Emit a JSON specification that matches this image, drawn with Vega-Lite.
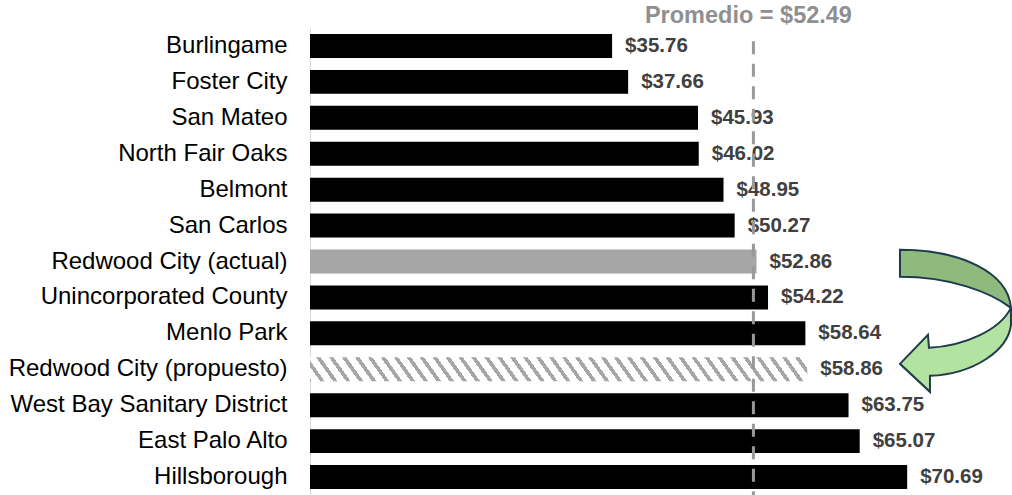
{
  "$schema": "https://vega.github.io/schema/vega-lite/v6.json",
  "autosize": {"type": "none"},
  "padding": {"left": 310, "top": 28, "right": 0, "bottom": 0},
  "width": 702,
  "height": 467,
  "background": "#ffffff",
  "config": {"view": {"stroke": null}},
  "data": {"values": [
    {"city": "Burlingame", "value": 35.76, "type": "normal"},
    {"city": "Foster City", "value": 37.66, "type": "normal"},
    {"city": "San Mateo", "value": 45.93, "type": "normal"},
    {"city": "North Fair Oaks", "value": 46.02, "type": "normal"},
    {"city": "Belmont", "value": 48.95, "type": "normal"},
    {"city": "San Carlos", "value": 50.27, "type": "normal"},
    {"city": "Redwood City (actual)", "value": 52.86, "type": "actual"},
    {"city": "Unincorporated County", "value": 54.22, "type": "normal"},
    {"city": "Menlo Park", "value": 58.64, "type": "normal"},
    {"city": "Redwood City (propuesto)", "value": 58.86, "type": "propuesto"},
    {"city": "West Bay Sanitary District", "value": 63.75, "type": "normal"},
    {"city": "East Palo Alto", "value": 65.07, "type": "normal"},
    {"city": "Hillsborough", "value": 70.69, "type": "normal"}
  ]},
  "layer": [
    {
      "transform": [{"filter": "datum.type !== 'propuesto'"}],
      "mark": {"type": "bar"},
      "encoding": {
        "y": {"field": "city", "type": "nominal", "sort": null,
          "scale": {"domain": ["Burlingame", "Foster City", "San Mateo", "North Fair Oaks", "Belmont", "San Carlos", "Redwood City (actual)", "Unincorporated County", "Menlo Park", "Redwood City (propuesto)", "West Bay Sanitary District", "East Palo Alto", "Hillsborough"], "paddingInner": 0.3333, "paddingOuter": 0.1667},
          "axis": {"title": null, "labelFontSize": 24, "labelFont": "Liberation Sans", "labelColor": "#000000", "ticks": false, "tickSize": 0, "labelPadding": 23, "labelLimit": 500, "domainColor": "#d9d9d9", "domainWidth": 1, "grid": false}},
        "x": {"field": "value", "type": "quantitative", "scale": {"domain": [0, 83.1], "nice": false}, "axis": null},
        "color": {"field": "type", "type": "nominal", "scale": {"domain": ["normal", "actual"], "range": ["#000000", "#a6a6a6"]}, "legend": null}
      }
    },
    {
      "transform": [{"filter": "datum.type === 'propuesto'"}],
      "mark": {"type": "bar", "fill": {"gradient": "linear", "x1": -0.04, "y1": 0, "x2": 1, "y2": -0.0359, "stops": [
        {"offset": 0, "color": "#a6a6a6"}, {"offset": 0.00875, "color": "#a6a6a6"}, {"offset": 0.00875, "color": "#ffffff"}, {"offset": 0.025, "color": "#ffffff"},
        {"offset": 0.025, "color": "#a6a6a6"}, {"offset": 0.03375, "color": "#a6a6a6"}, {"offset": 0.03375, "color": "#ffffff"}, {"offset": 0.05, "color": "#ffffff"},
        {"offset": 0.05, "color": "#a6a6a6"}, {"offset": 0.05875, "color": "#a6a6a6"}, {"offset": 0.05875, "color": "#ffffff"}, {"offset": 0.075, "color": "#ffffff"},
        {"offset": 0.075, "color": "#a6a6a6"}, {"offset": 0.08375, "color": "#a6a6a6"}, {"offset": 0.08375, "color": "#ffffff"}, {"offset": 0.1, "color": "#ffffff"},
        {"offset": 0.1, "color": "#a6a6a6"}, {"offset": 0.10875, "color": "#a6a6a6"}, {"offset": 0.10875, "color": "#ffffff"}, {"offset": 0.125, "color": "#ffffff"},
        {"offset": 0.125, "color": "#a6a6a6"}, {"offset": 0.13375, "color": "#a6a6a6"}, {"offset": 0.13375, "color": "#ffffff"}, {"offset": 0.15, "color": "#ffffff"},
        {"offset": 0.15, "color": "#a6a6a6"}, {"offset": 0.15875, "color": "#a6a6a6"}, {"offset": 0.15875, "color": "#ffffff"}, {"offset": 0.175, "color": "#ffffff"},
        {"offset": 0.175, "color": "#a6a6a6"}, {"offset": 0.18375, "color": "#a6a6a6"}, {"offset": 0.18375, "color": "#ffffff"}, {"offset": 0.2, "color": "#ffffff"},
        {"offset": 0.2, "color": "#a6a6a6"}, {"offset": 0.20875, "color": "#a6a6a6"}, {"offset": 0.20875, "color": "#ffffff"}, {"offset": 0.225, "color": "#ffffff"},
        {"offset": 0.225, "color": "#a6a6a6"}, {"offset": 0.23375, "color": "#a6a6a6"}, {"offset": 0.23375, "color": "#ffffff"}, {"offset": 0.25, "color": "#ffffff"},
        {"offset": 0.25, "color": "#a6a6a6"}, {"offset": 0.25875, "color": "#a6a6a6"}, {"offset": 0.25875, "color": "#ffffff"}, {"offset": 0.275, "color": "#ffffff"},
        {"offset": 0.275, "color": "#a6a6a6"}, {"offset": 0.28375, "color": "#a6a6a6"}, {"offset": 0.28375, "color": "#ffffff"}, {"offset": 0.3, "color": "#ffffff"},
        {"offset": 0.3, "color": "#a6a6a6"}, {"offset": 0.30875, "color": "#a6a6a6"}, {"offset": 0.30875, "color": "#ffffff"}, {"offset": 0.325, "color": "#ffffff"},
        {"offset": 0.325, "color": "#a6a6a6"}, {"offset": 0.33375, "color": "#a6a6a6"}, {"offset": 0.33375, "color": "#ffffff"}, {"offset": 0.35, "color": "#ffffff"},
        {"offset": 0.35, "color": "#a6a6a6"}, {"offset": 0.35875, "color": "#a6a6a6"}, {"offset": 0.35875, "color": "#ffffff"}, {"offset": 0.375, "color": "#ffffff"},
        {"offset": 0.375, "color": "#a6a6a6"}, {"offset": 0.38375, "color": "#a6a6a6"}, {"offset": 0.38375, "color": "#ffffff"}, {"offset": 0.4, "color": "#ffffff"},
        {"offset": 0.4, "color": "#a6a6a6"}, {"offset": 0.40875, "color": "#a6a6a6"}, {"offset": 0.40875, "color": "#ffffff"}, {"offset": 0.425, "color": "#ffffff"},
        {"offset": 0.425, "color": "#a6a6a6"}, {"offset": 0.43375, "color": "#a6a6a6"}, {"offset": 0.43375, "color": "#ffffff"}, {"offset": 0.45, "color": "#ffffff"},
        {"offset": 0.45, "color": "#a6a6a6"}, {"offset": 0.45875, "color": "#a6a6a6"}, {"offset": 0.45875, "color": "#ffffff"}, {"offset": 0.475, "color": "#ffffff"},
        {"offset": 0.475, "color": "#a6a6a6"}, {"offset": 0.48375, "color": "#a6a6a6"}, {"offset": 0.48375, "color": "#ffffff"}, {"offset": 0.5, "color": "#ffffff"},
        {"offset": 0.5, "color": "#a6a6a6"}, {"offset": 0.50875, "color": "#a6a6a6"}, {"offset": 0.50875, "color": "#ffffff"}, {"offset": 0.525, "color": "#ffffff"},
        {"offset": 0.525, "color": "#a6a6a6"}, {"offset": 0.53375, "color": "#a6a6a6"}, {"offset": 0.53375, "color": "#ffffff"}, {"offset": 0.55, "color": "#ffffff"},
        {"offset": 0.55, "color": "#a6a6a6"}, {"offset": 0.55875, "color": "#a6a6a6"}, {"offset": 0.55875, "color": "#ffffff"}, {"offset": 0.575, "color": "#ffffff"},
        {"offset": 0.575, "color": "#a6a6a6"}, {"offset": 0.58375, "color": "#a6a6a6"}, {"offset": 0.58375, "color": "#ffffff"}, {"offset": 0.6, "color": "#ffffff"},
        {"offset": 0.6, "color": "#a6a6a6"}, {"offset": 0.60875, "color": "#a6a6a6"}, {"offset": 0.60875, "color": "#ffffff"}, {"offset": 0.625, "color": "#ffffff"},
        {"offset": 0.625, "color": "#a6a6a6"}, {"offset": 0.63375, "color": "#a6a6a6"}, {"offset": 0.63375, "color": "#ffffff"}, {"offset": 0.65, "color": "#ffffff"},
        {"offset": 0.65, "color": "#a6a6a6"}, {"offset": 0.65875, "color": "#a6a6a6"}, {"offset": 0.65875, "color": "#ffffff"}, {"offset": 0.675, "color": "#ffffff"},
        {"offset": 0.675, "color": "#a6a6a6"}, {"offset": 0.68375, "color": "#a6a6a6"}, {"offset": 0.68375, "color": "#ffffff"}, {"offset": 0.7, "color": "#ffffff"},
        {"offset": 0.7, "color": "#a6a6a6"}, {"offset": 0.70875, "color": "#a6a6a6"}, {"offset": 0.70875, "color": "#ffffff"}, {"offset": 0.725, "color": "#ffffff"},
        {"offset": 0.725, "color": "#a6a6a6"}, {"offset": 0.73375, "color": "#a6a6a6"}, {"offset": 0.73375, "color": "#ffffff"}, {"offset": 0.75, "color": "#ffffff"},
        {"offset": 0.75, "color": "#a6a6a6"}, {"offset": 0.75875, "color": "#a6a6a6"}, {"offset": 0.75875, "color": "#ffffff"}, {"offset": 0.775, "color": "#ffffff"},
        {"offset": 0.775, "color": "#a6a6a6"}, {"offset": 0.78375, "color": "#a6a6a6"}, {"offset": 0.78375, "color": "#ffffff"}, {"offset": 0.8, "color": "#ffffff"},
        {"offset": 0.8, "color": "#a6a6a6"}, {"offset": 0.80875, "color": "#a6a6a6"}, {"offset": 0.80875, "color": "#ffffff"}, {"offset": 0.825, "color": "#ffffff"},
        {"offset": 0.825, "color": "#a6a6a6"}, {"offset": 0.83375, "color": "#a6a6a6"}, {"offset": 0.83375, "color": "#ffffff"}, {"offset": 0.85, "color": "#ffffff"},
        {"offset": 0.85, "color": "#a6a6a6"}, {"offset": 0.85875, "color": "#a6a6a6"}, {"offset": 0.85875, "color": "#ffffff"}, {"offset": 0.875, "color": "#ffffff"},
        {"offset": 0.875, "color": "#a6a6a6"}, {"offset": 0.88375, "color": "#a6a6a6"}, {"offset": 0.88375, "color": "#ffffff"}, {"offset": 0.9, "color": "#ffffff"},
        {"offset": 0.9, "color": "#a6a6a6"}, {"offset": 0.90875, "color": "#a6a6a6"}, {"offset": 0.90875, "color": "#ffffff"}, {"offset": 0.925, "color": "#ffffff"},
        {"offset": 0.925, "color": "#a6a6a6"}, {"offset": 0.93375, "color": "#a6a6a6"}, {"offset": 0.93375, "color": "#ffffff"}, {"offset": 0.95, "color": "#ffffff"},
        {"offset": 0.95, "color": "#a6a6a6"}, {"offset": 0.95875, "color": "#a6a6a6"}, {"offset": 0.95875, "color": "#ffffff"}, {"offset": 0.975, "color": "#ffffff"},
        {"offset": 0.975, "color": "#a6a6a6"}, {"offset": 0.98375, "color": "#a6a6a6"}, {"offset": 0.98375, "color": "#ffffff"}, {"offset": 1, "color": "#ffffff"}
      ]}},
      "encoding": {
        "y": {"field": "city", "type": "nominal", "sort": null, "axis": {"title": null}},
        "x": {"field": "value", "type": "quantitative", "axis": null}
      }
    },
    {
      "mark": {"type": "text", "align": "left", "baseline": "middle", "dx": 13, "fontSize": 20.5, "fontWeight": "bold", "font": "Liberation Sans", "color": "#404040"},
      "encoding": {
        "y": {"field": "city", "type": "nominal", "sort": null, "axis": {"title": null}},
        "x": {"field": "value", "type": "quantitative", "axis": null},
        "text": {"field": "value", "type": "quantitative", "format": "$.2f"}
      }
    },
    {
      "data": {"values": [{}]},
      "mark": {"type": "rule", "strokeDash": [13, 9.5], "strokeWidth": 3, "color": "#999999"},
      "encoding": {
        "x": {"datum": 52.49, "type": "quantitative", "axis": null},
        "y": {"datum": "Burlingame", "type": "nominal", "bandPosition": 0.3, "axis": {"title": null}},
        "y2": {"value": "height"}
      }
    },
    {
      "data": {"values": [{}]},
      "mark": {"type": "text", "text": "Promedio = $52.49", "fontSize": 23.5, "fontWeight": "bold", "font": "Liberation Sans", "color": "#8f8f8f", "align": "center", "baseline": "middle", "dx": -5, "dy": -30},
      "encoding": {
        "x": {"datum": 52.49, "type": "quantitative", "axis": null},
        "y": {"datum": "Burlingame", "type": "nominal", "axis": {"title": null}}
      }
    },
    {
      "data": {"values": [{"part": "back"}, {"part": "front"}]},
      "mark": {"type": "point", "filled": true, "size": 4, "opacity": 1, "stroke": "#1f3b4d", "strokeWidth": 2, "strokeJoin": "miter"},
      "encoding": {
        "x": {"datum": 77, "type": "quantitative", "axis": null},
        "y": {"datum": "Menlo Park", "type": "nominal", "axis": {"title": null}},
        "shape": {"field": "part", "type": "nominal", "legend": null, "scale": {"domain": ["back", "front"], "range": [
          "M -60.5 -83.5 C -0.5 -83.5 47.5 -61.5 50.5 -25.5 C 29.5 -41.5 -10.5 -56.5 -60.5 -56.5 Z",
          "M 50.5 -25.5 L 50.5 -8.5 C 47.5 16.5 14.5 40.5 -30.5 42.5 L -30.5 58.5 L -60.5 30.5 L -32.5 1.5 L -31.5 14.5 C 4.5 12.5 39.5 -3.5 50.5 -25.5 Z"
        ]}},
        "fill": {"field": "part", "type": "nominal", "legend": null, "scale": {"domain": ["back", "front"], "range": ["#8fba7d", "#b2e3a1"]}}
      }
    }
  ]
}
